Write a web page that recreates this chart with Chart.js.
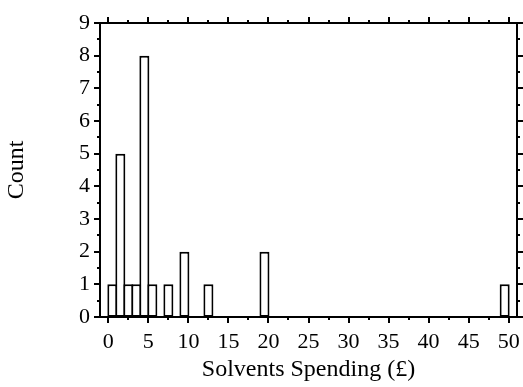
<!DOCTYPE html>
<html>
<head>
<meta charset="utf-8">
<title>Solvents Spending</title>
<script src="https://cdn.jsdelivr.net/npm/chart.js@4/dist/chart.umd.min.js"></script>
<style>
  html, body { margin: 0; padding: 0; background: #ffffff; }
  #wrap { width: 523px; height: 387px; }
</style>
</head>
<body>
<div id="wrap"><canvas id="hist" width="523" height="387"></canvas></div>
<script>
// Histogram of spending on solvents, one-pound bins
const binCentres = [0.5, 1.5, 2.5, 3.5, 4.5, 5.5, 7.5, 9.5, 12.5, 19.5, 49.5];
const counts = [1, 5, 1, 1, 8, 1, 1, 2, 1, 2, 1];
const xTickValues = [0, 5, 10, 15, 20, 25, 30, 35, 40, 45, 50];
const yTickValues = [0, 1, 2, 3, 4, 5, 6, 7, 8, 9];
const xTitle = 'Solvents Spending (£)';
const yTitle = 'Count';

const X_MIN = -1.04, X_MAX = 51.04, Y_MIN = 0, Y_MAX = 9;
const serif = 'Liberation Serif, Times New Roman, serif';

// Draws the boxed frame with outward major and minor tick marks
const frameTicks = {
  id: 'frameTicks',
  afterDatasetsDraw(chart) {
    const { ctx, chartArea: a, scales } = chart;
    const xs = scales.x, ys = scales.y;
    ctx.save();
    ctx.strokeStyle = '#000';
    ctx.lineWidth = 2;
    ctx.lineCap = 'butt';
    ctx.strokeRect(a.left, a.top, a.right - a.left, a.bottom - a.top);
    ctx.beginPath();
    const major = 6, minor = 3;
    xTickValues.forEach((v, i) => {
      const px = Math.round(xs.getPixelForValue(v));
      ctx.moveTo(px, a.bottom); ctx.lineTo(px, a.bottom + major);
      ctx.moveTo(px, a.top); ctx.lineTo(px, a.top - major);
      if (i < xTickValues.length - 1) {
        const mx = Math.round(xs.getPixelForValue((v + xTickValues[i + 1]) / 2));
        ctx.moveTo(mx, a.bottom); ctx.lineTo(mx, a.bottom + minor);
        ctx.moveTo(mx, a.top); ctx.lineTo(mx, a.top - minor);
      }
    });
    yTickValues.forEach((v, i) => {
      const py = Math.round(ys.getPixelForValue(v));
      ctx.moveTo(a.left, py); ctx.lineTo(a.left - major, py);
      ctx.moveTo(a.right, py); ctx.lineTo(a.right + major, py);
      if (i < yTickValues.length - 1) {
        const my = Math.round(ys.getPixelForValue((v + yTickValues[i + 1]) / 2));
        ctx.moveTo(a.left, my); ctx.lineTo(a.left - minor, my);
        ctx.moveTo(a.right, my); ctx.lineTo(a.right + minor, my);
      }
    });
    ctx.stroke();
    ctx.restore();
  }
};

const fixedTicks = (values) => (scale) => {
  scale.ticks = values.map(v => ({ value: v }));
};

// Fixed axis band sizes, with no extra room reserved for overhanging labels
const fixSize = (w, h) => (s) => {
  if (w !== null) s.width = w;
  if (h !== null) s.height = h;
  s.paddingLeft = 0; s.paddingRight = 0;
  s.paddingTop = 0; s.paddingBottom = 0;
};

new Chart(document.getElementById('hist'), {
  type: 'bar',
  data: {
    datasets: [{
      data: binCentres.map((x, i) => ({ x: x, y: counts[i] })),
      backgroundColor: '#ffffff',
      borderColor: '#000000',
      borderWidth: 2,
      borderSkipped: false,
      barPercentage: 1.25,
      categoryPercentage: 1,
      grouped: false
    }]
  },
  options: {
    responsive: false,
    animation: false,
    devicePixelRatio: 1,
    layout: { padding: 0 },
    plugins: { legend: { display: false }, tooltip: { enabled: false } },
    scales: {
      x: {
        type: 'linear',
        position: 'bottom',
        offset: false,
        min: X_MIN, max: X_MAX,
        afterBuildTicks: fixedTicks(xTickValues),
        afterFit: fixSize(null, 70),
        grid: { display: false, drawTicks: false, offset: false },
        border: { display: false },
        ticks: {
          color: '#000', padding: 12, maxRotation: 0, autoSkip: false,
          font: { family: serif, size: 22 }
        },
        title: {
          display: true, text: xTitle, color: '#000',
          font: { family: serif, size: 24 }, padding: { top: 0, bottom: 3 }
        }
      },
      xTop: {
        type: 'linear',
        position: 'top',
        offset: false,
        min: X_MIN, max: X_MAX,
        afterFit: fixSize(null, 23),
        grid: { display: false, drawTicks: false },
        border: { display: false },
        ticks: { display: false }
      },
      y: {
        type: 'linear',
        position: 'left',
        min: Y_MIN, max: Y_MAX,
        afterBuildTicks: fixedTicks(yTickValues),
        afterFit: fixSize(100, null),
        grid: { display: false, drawTicks: false },
        border: { display: false },
        ticks: {
          color: '#000', padding: 10,
          font: { family: serif, size: 22 }
        },
        title: {
          display: true, text: yTitle, color: '#000',
          font: { family: serif, size: 24 }, padding: { top: 2, bottom: 0 }
        }
      },
      yRight: {
        type: 'linear',
        position: 'right',
        min: Y_MIN, max: Y_MAX,
        afterFit: fixSize(6, null),
        grid: { display: false, drawTicks: false },
        border: { display: false },
        ticks: { display: false }
      }
    }
  },
  plugins: [frameTicks]
});
</script>
</body>
</html>
